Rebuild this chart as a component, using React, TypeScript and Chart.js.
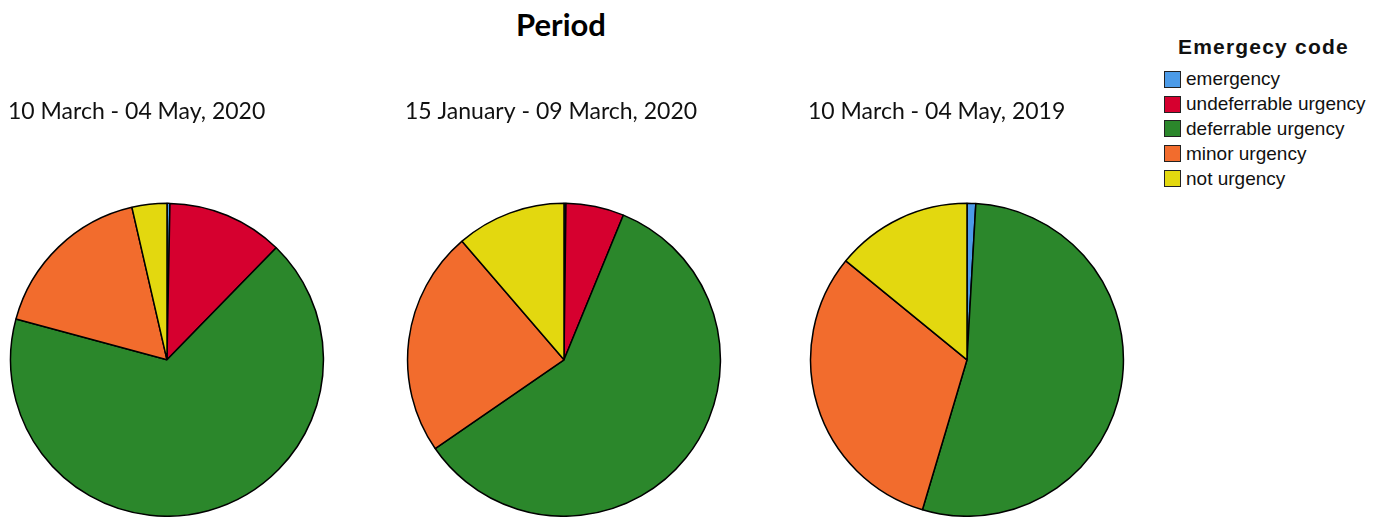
import React, { useEffect, useRef } from 'react';
import { Chart, PieController, ArcElement, Title, Tooltip } from 'chart.js';

Chart.register(PieController, ArcElement, Title, Tooltip);

const categories = ['emergency', 'undeferrable urgency', 'deferrable urgency', 'minor urgency', 'not urgency'];
const colors = ['#4c9be8', '#d6002f', '#2b872b', '#f26c2d', '#e3d80f'];
const periods = ['10 March - 04 May, 2020', '15 January - 09 March, 2020', '10 March - 04 May, 2019'];

// percent share per category
const march2020 = [0.3, 12.0, 66.9, 17.2, 3.6];
const janMar2020 = [0.2, 6.0, 59.2, 23.3, 11.3];
const march2019 = [0.9, 0, 53.7, 31.3, 14.1];

const pieLefts = [8, 405, 808];

function PieBlock({ label, values, left }: { label: string; values: number[]; left: number }) {
  const canvasRef = useRef<HTMLCanvasElement>(null);
  useEffect(() => {
    const chart = new Chart(canvasRef.current!, {
      type: 'pie',
      data: {
        labels: categories,
        datasets: [{
          data: values,
          backgroundColor: colors,
          borderColor: '#000',
          borderWidth: 1.5,
        }],
      },
      options: {
        responsive: true,
        maintainAspectRatio: false,
        animation: false,
        layout: { padding: 0 },
        plugins: {
          legend: { display: false },
          tooltip: { enabled: true },
          title: {
            display: true,
            text: label,
            align: 'start',
            color: '#111',
            font: { family: 'Lato', size: 23, weight: 'normal' },
            padding: { top: 3, bottom: 77 },
          },
        },
      },
    });
    return () => chart.destroy();
  }, [label, values]);

  return (
    <div style={{ position: 'absolute', left, top: 95, width: 318, height: 422 }}>
      <canvas ref={canvasRef} aria-label={label}></canvas>
    </div>
  );
}

export default function App() {
  const data = [march2020, janMar2020, march2019];
  return (
    <div style={{ position: 'fixed', left: 0, top: 0, width: 1380, height: 517, background: '#fff', overflow: 'hidden' }}>
      <div style={{ position: 'absolute', left: 0, width: 1122, top: 5, textAlign: 'center', fontFamily: 'Lato', fontWeight: 'bold', fontSize: 31, color: '#000' }}>
        Period
      </div>
      {periods.map((p, i) => (
        <PieBlock key={p} label={p} values={data[i]} left={pieLefts[i]} />
      ))}
      <div style={{ position: 'absolute', left: 1164, top: 33, fontFamily: '"Liberation Sans", Arial, sans-serif', color: '#111' }}>
        <div style={{ fontWeight: 'bold', fontSize: 21, letterSpacing: 1.2, marginLeft: 14, lineHeight: '28px', marginBottom: 6 }}>Emergecy code</div>
        {categories.map((c, i) => (
          <div key={c} style={{ display: 'flex', alignItems: 'center', height: 24.8, fontSize: 19 }}>
            <span style={{ display: 'inline-block', width: 15, height: 15, background: colors[i], border: '1.5px solid #222', marginRight: 5 }}></span>
            <span>{c}</span>
          </div>
        ))}
      </div>
    </div>
  );
}
